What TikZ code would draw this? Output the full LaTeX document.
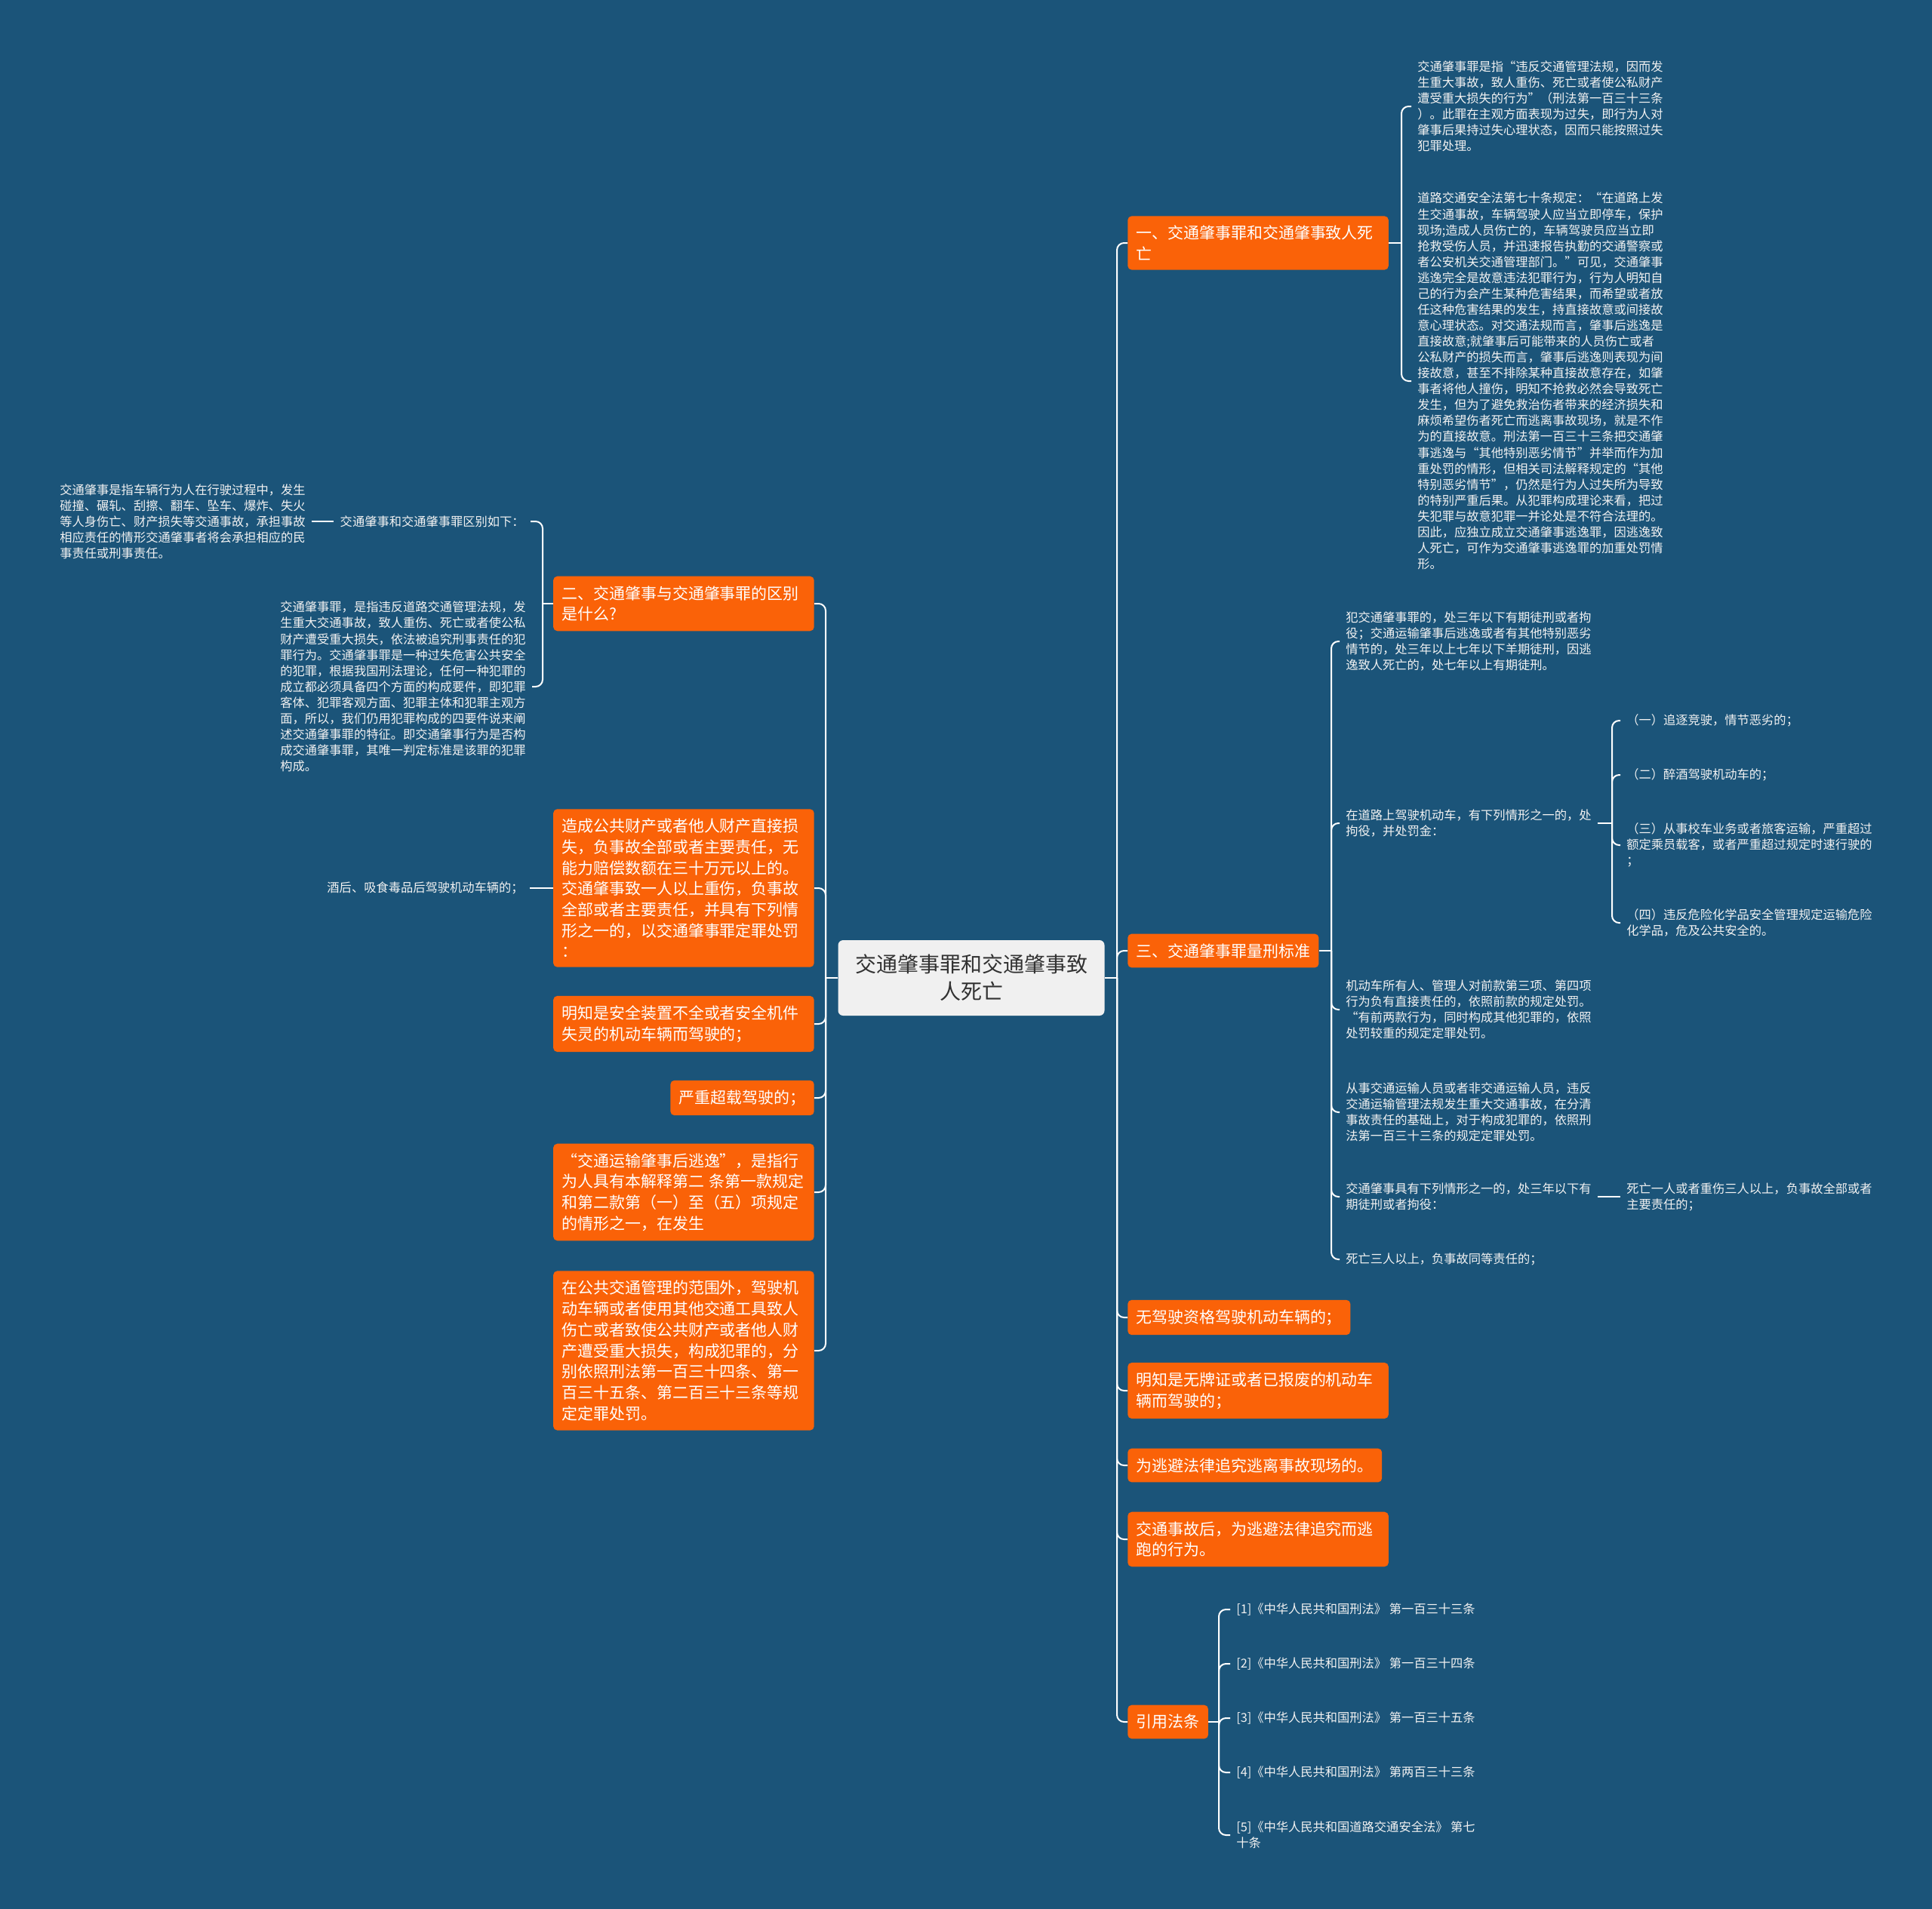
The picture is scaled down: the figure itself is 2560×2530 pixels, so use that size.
\documentclass[tikz,border=0pt]{standalone}
\usepackage{fontspec}
\setmainfont{Noto Sans CJK SC}
\definecolor{bg}{RGB}{27,84,121}
\definecolor{org}{RGB}{250,98,8}
\definecolor{cgray}{RGB}{240,240,240}
\definecolor{ctext}{RGB}{50,50,50}
\definecolor{ltext}{RGB}{242,242,242}
\begin{document}
\begin{tikzpicture}[x=0.75pt,y=-0.75pt,
 obox/.style={fill=org, rounded corners=4pt, text=white, font=\fontsize{15.7pt}{20.8pt}\selectfont, inner xsep=8.6pt, inner ysep=9.5pt, align=left},
 wbox/.style={obox, text width=242pt},
 ptext/.style={text=ltext, font=\fontsize{12.2pt}{15.8pt}\selectfont, inner xsep=6pt, inner ysep=2pt, align=left},
 link/.style={draw=white, line width=1.5pt, rounded corners=7pt},
]
\fill[bg] (0,0) rectangle (2560,2530);
\useasboundingbox (0,0) rectangle (2560,2530);

% center
\node[fill=cgray, text=ctext, rounded corners=5pt, minimum width=264.75pt, minimum height=75pt, align=center, font=\fontsize{21pt}{27pt}\selectfont] (c) at (1287,1296) {交通肇事罪和交通肇事致\\人死亡};

% left branches
\node[wbox, anchor=east] (L1) at (1079,800) {二、交通肇事与交通肇事罪的区别\\是什么?};
\node[wbox, anchor=east] (L2) at (1079,1177) {造成公共财产或者他人财产直接损\\失，负事故全部或者主要责任，无\\能力赔偿数额在三十万元以上的。\\交通肇事致一人以上重伤，负事故\\全部或者主要责任，并具有下列情\\形之一的，以交通肇事罪定罪处罚\\：};
\node[wbox, anchor=east] (L3) at (1079,1357) {明知是安全装置不全或者安全机件\\失灵的机动车辆而驾驶的；};
\node[obox, anchor=east] (L4) at (1079,1455) {严重超载驾驶的；};
\node[wbox, anchor=east] (L5) at (1079,1580) {“交通运输肇事后逃逸”，是指行\\为人具有本解释第二 条第一款规定\\和第二款第（一）至（五）项规定\\的情形之一，在发生};
\node[wbox, anchor=east] (L6) at (1079,1790) {在公共交通管理的范围外，驾驶机\\动车辆或者使用其他交通工具致人\\伤亡或者致使公共财产或者他人财\\产遭受重大损失，构成犯罪的，分\\别依照刑法第一百三十四条、第一\\百三十五条、第二百三十三条等规\\定定罪处罚。};

\node[ptext, anchor=east] (qb) at (703,691) {交通肇事和交通肇事罪区别如下：};
\node[ptext, anchor=east] (lt1) at (413,691) {交通肇事是指车辆行为人在行驶过程中，发生\\碰撞、碾轧、刮擦、翻车、坠车、爆炸、失火\\等人身伤亡、财产损失等交通事故，承担事故\\相应责任的情形交通肇事者将会承担相应的民\\事责任或刑事责任。};
\node[ptext, anchor=east] (lt2) at (705,910) {交通肇事罪，是指违反道路交通管理法规，发\\生重大交通事故，致人重伤、死亡或者使公私\\财产遭受重大损失，依法被追究刑事责任的犯\\罪行为。交通肇事罪是一种过失危害公共安全\\的犯罪，根据我国刑法理论，任何一种犯罪的\\成立都必须具备四个方面的构成要件，即犯罪\\客体、犯罪客观方面、犯罪主体和犯罪主观方\\面，所以，我们仍用犯罪构成的四要件说来阐\\述交通肇事罪的特征。即交通肇事行为是否构\\成交通肇事罪，其唯一判定标准是该罪的犯罪\\构成。};
\node[ptext, anchor=east] (jh) at (702,1177) {酒后、吸食毒品后驾驶机动车辆的；};

% right branches
\node[wbox, anchor=west] (R1) at (1494,322) {一、交通肇事罪和交通肇事致人死\\亡};
\node[obox, anchor=west] (R2) at (1494,1260) {三、交通肇事罪量刑标准};
\node[obox, anchor=west] (R3) at (1494,1746) {无驾驶资格驾驶机动车辆的；};
\node[wbox, anchor=west] (R4) at (1494,1843) {明知是无牌证或者已报废的机动车\\辆而驾驶的；};
\node[obox, anchor=west] (R5) at (1494,1942) {为逃避法律追究逃离事故现场的。};
\node[wbox, anchor=west] (R6) at (1494,2040) {交通事故后，为逃避法律追究而逃\\跑的行为。};
\node[obox, anchor=west] (R7) at (1494,2282) {引用法条};

\node[ptext, anchor=west] (r1a) at (1870,141) {交通肇事罪是指“违反交通管理法规，因而发\\生重大事故，致人重伤、死亡或者使公私财产\\遭受重大损失的行为”（刑法第一百三十三条\\）。此罪在主观方面表现为过失，即行为人对\\肇事后果持过失心理状态，因而只能按照过失\\犯罪处理。};
\node[ptext, anchor=west] (r1b) at (1870,505) {道路交通安全法第七十条规定：“在道路上发\\生交通事故，车辆驾驶人应当立即停车，保护\\现场;造成人员伤亡的，车辆驾驶员应当立即\\抢救受伤人员，并迅速报告执勤的交通警察或\\者公安机关交通管理部门。”可见，交通肇事\\逃逸完全是故意违法犯罪行为，行为人明知自\\己的行为会产生某种危害结果，而希望或者放\\任这种危害结果的发生，持直接故意或间接故\\意心理状态。对交通法规而言，肇事后逃逸是\\直接故意;就肇事后可能带来的人员伤亡或者\\公私财产的损失而言，肇事后逃逸则表现为间\\接故意，甚至不排除某种直接故意存在，如肇\\事者将他人撞伤，明知不抢救必然会导致死亡\\发生，但为了避免救治伤者带来的经济损失和\\麻烦希望伤者死亡而逃离事故现场，就是不作\\为的直接故意。刑法第一百三十三条把交通肇\\事逃逸与“其他特别恶劣情节”并举而作为加\\重处罚的情形，但相关司法解释规定的“其他\\特别恶劣情节”，仍然是行为人过失所为导致\\的特别严重后果。从犯罪构成理论来看，把过\\失犯罪与故意犯罪一并论处是不符合法理的。\\因此，应独立成立交通肇事逃逸罪，因逃逸致\\人死亡，可作为交通肇事逃逸罪的加重处罚情\\形。};

\node[ptext, anchor=west] (ta) at (1775,850) {犯交通肇事罪的，处三年以下有期徒刑或者拘\\役；交通运输肇事后逃逸或者有其他特别恶劣\\情节的，处三年以上七年以下羊期徒刑，因逃\\逸致人死亡的，处七年以上有期徒刑。};
\node[ptext, anchor=west] (tb) at (1775,1091) {在道路上驾驶机动车，有下列情形之一的，处\\拘役，并处罚金：};
\node[ptext, anchor=west] (tc) at (1775,1338) {机动车所有人、管理人对前款第三项、第四项\\行为负有直接责任的，依照前款的规定处罚。\\“有前两款行为，同时构成其他犯罪的，依照\\处罚较重的规定定罪处罚。};
\node[ptext, anchor=west] (td) at (1775,1474) {从事交通运输人员或者非交通运输人员，违反\\交通运输管理法规发生重大交通事故，在分清\\事故责任的基础上，对于构成犯罪的，依照刑\\法第一百三十三条的规定定罪处罚。};
\node[ptext, anchor=west] (te) at (1775,1586) {交通肇事具有下列情形之一的，处三年以下有\\期徒刑或者拘役：};
\node[ptext, anchor=west] (tf) at (1775,1669) {死亡三人以上，负事故同等责任的；};

\node[ptext, anchor=west] (b1) at (2147,955) {（一）追逐竞驶，情节恶劣的；};
\node[ptext, anchor=west] (b2) at (2147,1027) {（二）醉酒驾驶机动车的；};
\node[ptext, anchor=west] (b3) at (2147,1120) {（三）从事校车业务或者旅客运输，严重超过\\额定乘员载客，或者严重超过规定时速行驶的\\；};
\node[ptext, anchor=west] (b4) at (2147,1223) {（四）违反危险化学品安全管理规定运输危险\\化学品，危及公共安全的。};
\node[ptext, anchor=west] (e1) at (2147,1586) {死亡一人或者重伤三人以上，负事故全部或者\\主要责任的；};

\node[ptext, anchor=west] (k1) at (1630,2133) {[1]《中华人民共和国刑法》 第一百三十三条};
\node[ptext, anchor=west] (k2) at (1630,2205) {[2]《中华人民共和国刑法》 第一百三十四条};
\node[ptext, anchor=west] (k3) at (1630,2277) {[3]《中华人民共和国刑法》 第一百三十五条};
\node[ptext, anchor=west] (k4) at (1630,2349) {[4]《中华人民共和国刑法》 第两百三十三条};
\node[ptext, anchor=west] (k5) at (1630,2432) {[5]《中华人民共和国道路交通安全法》 第七\\十条};

% connectors
\coordinate (jr) at (1480,1296);
\coordinate (jl) at (1094,1296);
\draw[link] (c.east) -- (jr);
\foreach \n in {R1,R2,R3,R4,R5,R6,R7} \draw[link] (jr) |- (\n.west);
\draw[link] (c.west) -- (jl);
\foreach \n in {L1,L2,L3,L4,L5,L6} \draw[link] (jl) |- (\n.east);

\coordinate (j2) at (719,800);
\draw[link] (L1.west) -- (j2);
\draw[link] (j2) |- (qb.east);
\draw[link] (j2) |- (lt2.east);
\draw[link] (qb.west) -- (lt1.east);
\draw[link] (jh.east) -- (L2.west);

\coordinate (j1) at (1857,322);
\draw[link] (R1.east) -- (j1);
\draw[link] (j1) |- (r1a.west);
\draw[link] (j1) |- (r1b.west);

\coordinate (j3) at (1764,1260);
\draw[link] (R2.east) -- (j3);
\foreach \n in {ta,tb,tc,td,te,tf} \draw[link] (j3) |- (\n.west);

\coordinate (jb) at (2136,1091);
\draw[link] (tb.east) -- (jb);
\foreach \n in {b1,b2,b3,b4} \draw[link] (jb) |- (\n.west);
\draw[link] (te.east) -- (e1.west);

\coordinate (jk) at (1615,2282);
\draw[link] (R7.east) -- (jk);
\foreach \n in {k1,k2,k3,k4,k5} \draw[link] (jk) |- (\n.west);
\end{tikzpicture}
\end{document}
